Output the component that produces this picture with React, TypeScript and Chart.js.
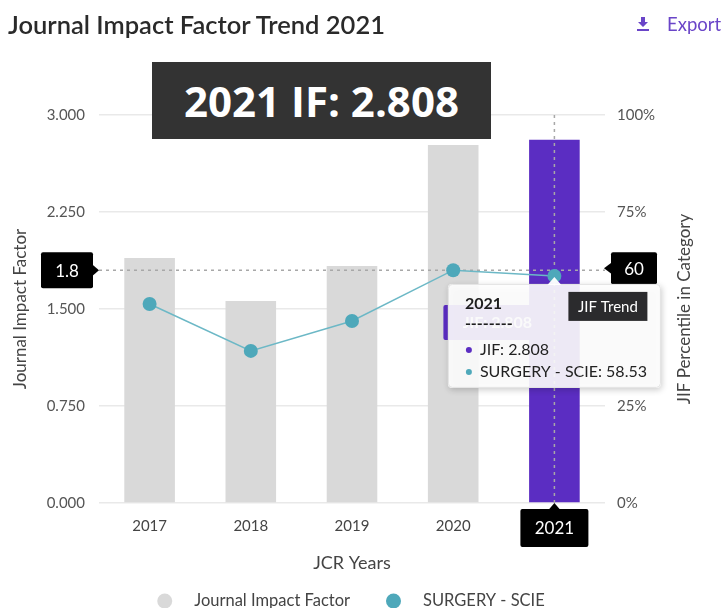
import React, { useEffect, useRef } from "react";
import { Chart, registerables } from "chart.js";

Chart.register(...registerables);

// ---- data ----
const years = ["2017", "2018", "2019", "2020", "2021"];
const jifValues = [1.895, 1.562, 1.833, 2.768, 2.808];
const percentileValues = [51.3, 39.2, 46.9, 60.0, 58.53];
const jifAxisMax = 3;
const jifAxisStep = 0.75;
const pctAxisMax = 100;
const pctAxisStep = 25;
const crosshairJif = 1.8;
const crosshairPct = 60;
const highlightIndex = 4;
const seriesNames = ["Journal Impact Factor", "SURGERY - SCIE"];
const rightAxisTitle = "JIF Percentile in Category";

const GREY = "#d9d9d9";
const PURPLE = "#5b2dc2";
const TEAL = "#4ea8ba";
const TEAL_LINE = "#6cb8c6";
const FONT = "Lato, 'Noto Sans', sans-serif";

const barColors = years.map((_, i) => (i === highlightIndex ? PURPLE : GREY));

function tagBox(ctx: CanvasRenderingContext2D, x: number, y: number, w: number, h: number, fill: string, arrow: "left" | "right" | "up" | null, tip?: number) {
  ctx.save();
  ctx.fillStyle = fill;
  ctx.beginPath();
  ctx.roundRect(x, y, w, h, 2);
  ctx.fill();
  if (arrow && tip !== undefined) {
    ctx.beginPath();
    if (arrow === "right") {
      const cy = y + h / 2;
      ctx.moveTo(x + w - 1, cy - 6);
      ctx.lineTo(tip, cy);
      ctx.lineTo(x + w - 1, cy + 6);
    } else if (arrow === "left") {
      const cy = y + h / 2;
      ctx.moveTo(x + 1, cy - 6);
      ctx.lineTo(tip, cy);
      ctx.lineTo(x + 1, cy + 6);
    } else {
      const cx = x + w / 2;
      ctx.moveTo(cx - 6, y + 1);
      ctx.lineTo(cx, tip);
      ctx.lineTo(cx + 6, y + 1);
    }
    ctx.closePath();
    ctx.fill();
  }
  ctx.restore();
}

const annotationPlugin = {
  id: "annotations",
  afterDatasetDraw(chart: any, args: any) {
    if (args.index !== 0) return;
    const { ctx, chartArea } = chart;
    const xs = chart.scales.x;
    const yl = chart.scales.y;
    const px = xs.getPixelForValue(highlightIndex);
    const cy = yl.getPixelForValue(crosshairJif);
    ctx.save();
    ctx.strokeStyle = "#a8a8a8";
    ctx.lineWidth = 1.5;
    ctx.setLineDash([3, 4]);
    ctx.beginPath();
    ctx.moveTo(chartArea.left, cy);
    ctx.lineTo(chartArea.right, cy);
    ctx.moveTo(px, chartArea.top);
    ctx.lineTo(px, chartArea.bottom);
    ctx.stroke();
    ctx.restore();
  },
  afterDraw(chart: any) {
    const { ctx, chartArea } = chart;
    const xs = chart.scales.x;
    const yl = chart.scales.y;
    const yr = chart.scales.y1;
    const px = xs.getPixelForValue(highlightIndex);
    const cy = yl.getPixelForValue(crosshairJif);
    const pointY = yr.getPixelForValue(percentileValues[highlightIndex]);

    ctx.save();

    // right axis title, reading bottom-to-top
    ctx.save();
    ctx.translate(yr.right - 42, (chartArea.top + chartArea.bottom) / 2);
    ctx.rotate(-Math.PI / 2);
    ctx.textAlign = "center";
    ctx.textBaseline = "middle";
    ctx.fillStyle = "#444";
    ctx.font = `17px ${FONT}`;
    ctx.fillText(rightAxisTitle, 0, 0);
    ctx.restore();

    ctx.textBaseline = "middle";
    ctx.textAlign = "center";
    ctx.font = `17px ${FONT}`;

    // left crosshair label
    const lw = 52, lh = 36;
    const lx = chartArea.left - 6 - lw;
    tagBox(ctx, lx, cy - lh / 2, lw, lh, "#000", "right", chartArea.left);
    ctx.fillStyle = "#fff";
    ctx.fillText(String(crosshairJif), lx + lw / 2, cy + 1);

    // right crosshair label
    const rw = 46, rh = 32;
    const rx = chartArea.right + 6;
    tagBox(ctx, rx, cy - rh / 2 - 2, rw, rh, "#000", "left", chartArea.right - 1);
    ctx.fillStyle = "#fff";
    ctx.fillText(String(crosshairPct), rx + rw / 2, cy - 1);

    // bottom year label
    const bw = 68, bh = 38;
    const by = chartArea.bottom + 6;
    tagBox(ctx, px - bw / 2, by, bw, bh, "#000", "up", chartArea.bottom);
    ctx.fillStyle = "#fff";
    ctx.fillText(years[highlightIndex], px, by + bh / 2 + 1);

    // tooltip
    const tw = 213, th = 104;
    const tx = px - tw / 2;
    const ty = pointY + 8;

    // purple JIF tag (behind tooltip)
    const pw = 100, ph = 35;
    const pxl = px - 111;
    const pyt = ty + 21;
    tagBox(ctx, pxl, pyt, pw, ph, PURPLE, "right", pxl + pw + 7);
    ctx.font = `bold 16px ${FONT}`;
    ctx.fillStyle = "#fff";
    ctx.fillText(`JIF: ${jifValues[highlightIndex].toFixed(3)}`, pxl + pw / 2 + 4, pyt + ph / 2);

    ctx.save();
    ctx.shadowColor = "rgba(0,0,0,0.22)";
    ctx.shadowBlur = 6;
    ctx.shadowOffsetX = 1;
    ctx.shadowOffsetY = 2;
    ctx.fillStyle = "rgba(255,255,255,0.9)";
    ctx.beginPath();
    ctx.roundRect(tx, ty, tw, th, 4);
    ctx.fill();
    ctx.restore();
    ctx.strokeStyle = "#e2e2e2";
    ctx.lineWidth = 1;
    ctx.beginPath();
    ctx.roundRect(tx + 0.5, ty + 0.5, tw - 1, th - 1, 4);
    ctx.stroke();
    // caret
    ctx.fillStyle = "rgba(255,255,255,0.95)";
    ctx.beginPath();
    ctx.moveTo(px - 7, ty + 1);
    ctx.lineTo(px, ty - 7);
    ctx.lineTo(px + 7, ty + 1);
    ctx.closePath();
    ctx.fill();

    ctx.textAlign = "left";
    ctx.fillStyle = "#1e1e1e";
    ctx.font = `bold 16px ${FONT}`;
    ctx.fillText(years[highlightIndex], tx + 17, ty + 20);
    ctx.fillText("--------", tx + 17, ty + 40);
    ctx.font = `16px ${FONT}`;
    ctx.fillStyle = PURPLE;
    ctx.beginPath();
    ctx.arc(tx + 21, ty + 66, 3, 0, Math.PI * 2);
    ctx.fill();
    ctx.fillStyle = TEAL;
    ctx.beginPath();
    ctx.arc(tx + 21, ty + 88, 3, 0, Math.PI * 2);
    ctx.fill();
    ctx.fillStyle = "#222";
    ctx.fillText(`JIF: ${jifValues[highlightIndex].toFixed(3)}`, tx + 32, ty + 66);
    ctx.fillText(`${seriesNames[1]}: ${percentileValues[highlightIndex]}`, tx + 32, ty + 88);

    // JIF Trend dark tag
    const jw = 79, jh = 29;
    const jx = px + 14, jy = ty + 8;
    ctx.fillStyle = "#2b2b2d";
    ctx.fillRect(jx, jy, jw, jh);
    ctx.fillStyle = "#fff";
    ctx.font = `15px ${FONT}`;
    ctx.textAlign = "center";
    ctx.fillText("JIF Trend", jx + jw / 2, jy + jh / 2 + 1);

    // legend
    ctx.font = `16.5px ${FONT}`;
    ctx.textAlign = "left";
    const w1 = ctx.measureText(seriesNames[0]).width;
    const w2 = ctx.measureText(seriesNames[1]).width;
    const gapCircleText = 22;
    const itemGap = 36;
    const total = 15 + gapCircleText + w1 + itemGap + 15 + gapCircleText + w2;
    const ly = 601;
    let sx = (chartArea.left + chartArea.right) / 2 - total / 2 - 1;
    const legendColors = [GREY, TEAL];
    [w1, w2].forEach((w, i) => {
      ctx.fillStyle = legendColors[i];
      ctx.beginPath();
      ctx.arc(sx + 7.5, ly, 7.5, 0, Math.PI * 2);
      ctx.fill();
      ctx.fillStyle = "#444";
      ctx.fillText(seriesNames[i], sx + 15 + gapCircleText, ly);
      sx += 15 + gapCircleText + w + itemGap;
    });
    ctx.restore();
  },
};

export default function App() {
  const ref = useRef<HTMLCanvasElement | null>(null);

  useEffect(() => {
    if (!ref.current) return;
    const chart = new Chart(ref.current, {
      type: "bar",
      data: {
        labels: years,
        datasets: [
          {
            type: "bar",
            label: seriesNames[0],
            data: jifValues,
            backgroundColor: barColors,
            yAxisID: "y",
            order: 1,
            categoryPercentage: 1,
            barPercentage: 0.5,
          },
          {
            type: "line",
            label: seriesNames[1],
            data: percentileValues,
            yAxisID: "y1",
            order: 0,
            borderColor: TEAL_LINE,
            borderWidth: 1.5,
            pointRadius: 7,
            pointBackgroundColor: TEAL,
            pointBorderColor: TEAL,
            pointBorderWidth: 0,
            tension: 0,
          } as any,
        ],
      },
      options: {
        animation: false,
        responsive: false,
        events: [],
        layout: { padding: { top: 115, left: 0, right: 0, bottom: 25 } },
        plugins: {
          legend: { display: false },
          tooltip: { enabled: false },
        },
        scales: {
          x: {
            grid: { display: false, drawTicks: false },
            border: { display: false },
            ticks: { color: "#444", font: { family: FONT, size: 15 }, padding: 14 },
            title: {
              display: true,
              text: "JCR Years",
              color: "#444",
              font: { family: FONT, size: 18 },
              padding: { top: 0, bottom: 9 },
            },
            afterFit: (s: any) => {
              s.height = 80;
            },
          },
          y: {
            position: "left",
            min: 0,
            max: jifAxisMax,
            ticks: {
              stepSize: jifAxisStep,
              color: "#555",
              font: { family: FONT, size: 15 },
              padding: 14,
              callback: (v: any) => Number(v).toFixed(3),
            },
            grid: { color: "#e9e9e9", drawTicks: false, lineWidth: 1.5 },
            border: { display: false },
            title: {
              display: true,
              text: "Journal Impact Factor",
              color: "#444",
              font: { family: FONT, size: 17 },
              padding: { top: 10, bottom: 0 },
            },
            afterFit: (s: any) => {
              s.width = 99;
            },
          },
          y1: {
            position: "right",
            min: 0,
            max: pctAxisMax,
            ticks: {
              stepSize: pctAxisStep,
              color: "#555",
              font: { family: FONT, size: 15 },
              padding: 12,
              callback: (v: any) => `${v}%`,
            },
            grid: { display: false, drawTicks: false },
            border: { display: false },
            title: { display: false },
            afterFit: (s: any) => {
              s.width = 122;
            },
          },
        },
      },
      plugins: [annotationPlugin],
    });
    return () => chart.destroy();
  }, []);

  return (
    <div
      style={{
        position: "absolute",
        left: 0,
        top: 0,
        width: 727,
        height: 608,
        overflow: "hidden",
        background: "#fff",
        fontFamily: FONT,
      }}
    >
      <canvas ref={ref} width={727} height={608} style={{ position: "absolute", left: 0, top: 0, width: 727, height: 608 }} />
      <div
        style={{
          position: "absolute",
          left: 8,
          top: 9,
          fontSize: 25.5,
          color: "#2a2a2a",
          fontWeight: 600,
          whiteSpace: "nowrap",
        }}
      >
        Journal Impact Factor Trend 2021
      </div>
      <div
        style={{
          position: "absolute",
          left: 636,
          top: 13,
          display: "flex",
          alignItems: "center",
          color: "#6a45c8",
          fontSize: 18.5,
          whiteSpace: "nowrap",
        }}
      >
        <svg width="14" height="16" viewBox="0 0 14 16" style={{ marginRight: 17 }}>
          <path d="M5 1 h4 v5 h3 l-5 5 l-5 -5 h3 z" fill="#6a45c8" />
          <rect x="1" y="13" width="12" height="2" fill="#6a45c8" />
        </svg>
        Export
      </div>
      <div
        style={{
          position: "absolute",
          left: 152,
          top: 62,
          width: 339,
          height: 77,
          background: "#333333",
          color: "#fff",
          display: "flex",
          alignItems: "center",
          justifyContent: "center",
          fontFamily: "'Open Sans', sans-serif",
          fontWeight: 700,
          fontSize: 42,
          whiteSpace: "nowrap",
        }}
      >
        2021 IF: 2.808
      </div>
    </div>
  );
}
